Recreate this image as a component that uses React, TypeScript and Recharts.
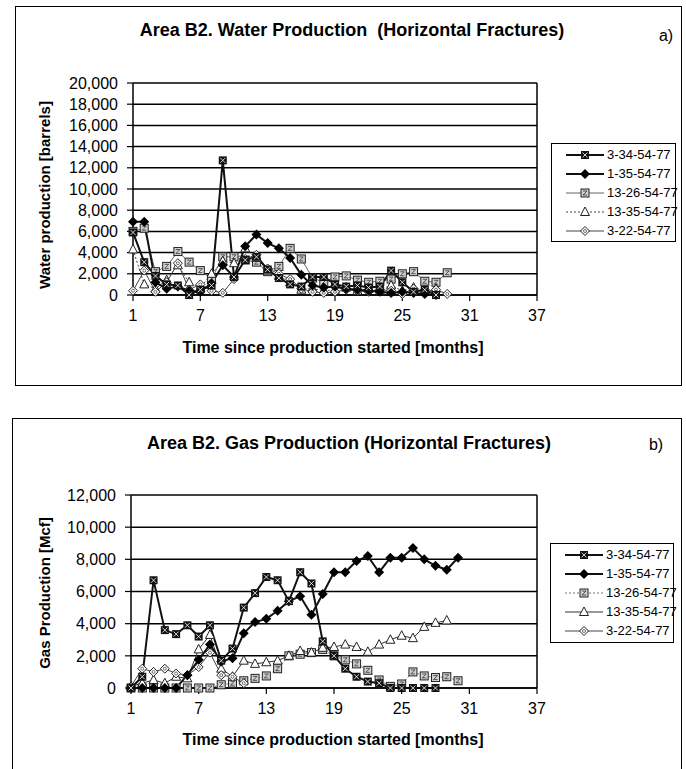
import React from 'react';
import { LineChart, Line, XAxis, YAxis, CartesianGrid, ReferenceLine } from 'recharts';

const FONT = '"Liberation Sans", Arial, Helvetica, sans-serif';

const months = Array.from({ length: 30 }, (_, i) => i + 1);
const seriesNames = ['3-34-54-77', '1-35-54-77', '13-26-54-77', '13-35-54-77', '3-22-54-77'];
const xTicks = [1, 7, 13, 19, 25, 31, 37];
const waterTicks = [0, 2000, 4000, 6000, 8000, 10000, 12000, 14000, 16000, 18000, 20000];
const gasTicks = [0, 2000, 4000, 6000, 8000, 10000, 12000];

// Water production [barrels], month 1 onward
const water3_34 = [5900, 3100, 1800, 1000, 900, 0, 500, 900, 12700, 1700, 3300, 3600, 2400, 1600, 1000, 800, 1700, 1700, 1000, 800, 900, 700, 800, 2300, 1200, 300, 500, 0];
const water1_35 = [6900, 6900, 1200, 600, 800, 400, 300, 1100, 2800, 1700, 4600, 5700, 4900, 4400, 3500, 1900, 900, 700, 800, 600, 500, 400, 300, 200, 300, 200, 100, 0];
const water13_26 = [6000, 6300, 2200, 2700, 4100, 3100, 2300, 1500, 3600, 3600, 3300, 3100, 2200, 2700, 4400, 3400, 1600, 1200, 1700, 1800, 1400, 1200, 1300, 1500, 2000, 2200, 1300, 1200, 2100];
const water13_35 = [4300, 1000, 600, 1400, 2800, 1200, 700, 2000, 3200, 3000, 4400, 3500, 2300, 1800, 1200, 500, 600, 400, 500, 700, 400, 600, 500, 900, 400, 700, 400, 600];
const water3_22 = [400, 2300, 300, 1200, 3000, 500, 1000, 400, 200, 1500, 3400, 3800, 2500, 2000, 1500, 600, 300, 200, 300, 500, 400, 300, 500, 400, 100, 600, 300, 500, 100];

// Gas production [Mcf], month 1 onward
const gas3_34 = [0, 700, 6700, 3600, 3350, 3900, 3200, 3900, 1700, 2450, 5000, 5900, 6900, 6700, 5400, 7200, 6500, 2900, 2000, 1200, 700, 400, 300, 0, 0, 0, 0, 0];
const gas1_35 = [0, 0, 0, 0, 0, 800, 1750, 2700, 1650, 1850, 3400, 4100, 4300, 4800, 5400, 5700, 4550, 5850, 7200, 7200, 7900, 8200, 7200, 8100, 8100, 8700, 8000, 7600, 7350, 8100];
const gas13_26 = [0, 0, 0, 0, 0, 0, 0, 0, 200, 300, 450, 600, 750, 1200, 2000, 2100, 2200, 2400, 2000, 1750, 1500, 1100, 500, 100, 250, 1000, 750, 650, 700, 450];
const gas13_35 = [100, 300, 500, 300, 700, 600, 2400, 3300, 1200, 700, 1700, 1500, 1600, 1700, 2000, 2300, 2200, 2500, 2550, 2700, 2550, 2250, 2700, 3000, 3250, 3100, 3800, 4050, 4200];
const gas3_22 = [100, 1200, 1000, 1200, 900, 800, 1300, 2200, 800, 700, 300];

const waterCols = [water3_34, water1_35, water13_26, water13_35, water3_22];
const gasCols = [gas3_34, gas1_35, gas13_26, gas13_35, gas3_22];

function buildRows(cols: number[][]) {
  return months.map((m, i) => {
    const r: any = { month: m };
    cols.forEach((c, j) => {
      r['s' + j] = i < c.length ? c[i] : null;
    });
    return r;
  });
}

const waterRows = buildRows(waterCols);
const gasRows = buildRows(gasCols);

type Sty = { stroke: string; width: number; dash?: string; marker: string };
const waterStyles: Sty[] = [
  { stroke: '#111', width: 2, marker: 'sqDark' },
  { stroke: '#111', width: 2, marker: 'diaFill' },
  { stroke: '#666', width: 1, marker: 'sqLight' },
  { stroke: '#444', width: 1, dash: '2 2', marker: 'tri' },
  { stroke: '#444', width: 1, marker: 'diaOpen' },
];
const gasStyles: Sty[] = [
  { stroke: '#111', width: 2, marker: 'sqDark' },
  { stroke: '#111', width: 2, marker: 'diaFill' },
  { stroke: '#777', width: 1, dash: '2 2', marker: 'sqLight' },
  { stroke: '#333', width: 1, marker: 'tri' },
  { stroke: '#444', width: 1, marker: 'diaOpen' },
];

function marker(kind: string, cx: number, cy: number, key?: string) {
  if (kind === 'sqDark') {
    return (
      <g key={key}>
        <rect x={cx - 4} y={cy - 4} width={8} height={8} fill="#111" />
        <path d={`M${cx - 2.5},${cy - 2.5}L${cx + 2.5},${cy + 2.5}M${cx + 2.5},${cy - 2.5}L${cx - 2.5},${cy + 2.5}`} stroke="#fff" strokeWidth={0.8} />
      </g>
    );
  }
  if (kind === 'diaFill') {
    return <polygon key={key} points={`${cx},${cy - 5} ${cx + 5},${cy} ${cx},${cy + 5} ${cx - 5},${cy}`} fill="#000" />;
  }
  if (kind === 'sqLight') {
    return (
      <g key={key}>
        <rect x={cx - 4} y={cy - 4} width={8} height={8} fill="#d0d0d0" stroke="#222" strokeWidth={1} />
        <path d={`M${cx - 2},${cy - 2}L${cx + 2},${cy - 2}L${cx - 2},${cy + 2}L${cx + 2},${cy + 2}`} stroke="#333" strokeWidth={0.8} fill="none" />
      </g>
    );
  }
  if (kind === 'tri') {
    return <polygon key={key} points={`${cx},${cy - 5} ${cx + 4.5},${cy + 3.5} ${cx - 4.5},${cy + 3.5}`} fill="#fff" stroke="#222" strokeWidth={1} />;
  }
  return (
    <g key={key}>
      <polygon points={`${cx},${cy - 4.5} ${cx + 4.5},${cy} ${cx},${cy + 4.5} ${cx - 4.5},${cy}`} fill="#fff" stroke="#222" strokeWidth={1} />
      <circle cx={cx} cy={cy} r={1.5} fill="none" stroke="#333" strokeWidth={0.7} />
    </g>
  );
}

function makeDot(kind: string, id: string) {
  return (p: any) => {
    const k = `${id}-${p.index}`;
    if (p.value == null || p.cx == null || p.cy == null || isNaN(p.cy)) return <g key={k} />;
    return marker(kind, p.cx, p.cy, k);
  };
}

const fmt = (v: number) => v.toLocaleString('en-US');

function LegendBox({ styles, left, top, width, height }: { styles: Sty[]; left: number; top: number; width: number; height: number }) {
  return (
    <div style={{ position: 'absolute', left, top, width, height, border: '1.5px solid #000', boxSizing: 'border-box', background: '#fff', fontFamily: FONT, fontSize: 13 }}>
      {seriesNames.map((n, i) => (
        <div key={n} style={{ position: 'absolute', left: 14, top: 1 + i * 19, height: 19, display: 'flex', alignItems: 'center' }}>
          <svg width={38} height={12} style={{ display: 'block' }}>
            <line x1={0} y1={6} x2={38} y2={6} stroke={styles[i].stroke} strokeWidth={styles[i].width} strokeDasharray={styles[i].dash} />
            {marker(styles[i].marker, 19, 6)}
          </svg>
          <span style={{ marginLeft: 3, whiteSpace: 'nowrap' }}>{n}</span>
        </div>
      ))}
    </div>
  );
}

function Txt({ x, y, children, size, bold, rotate }: { x: number; y: number; children: any; size: number; bold?: boolean; rotate?: boolean }) {
  return (
    <div
      style={{
        position: 'absolute',
        left: x,
        top: y,
        transform: `translate(-50%, -50%)${rotate ? ' rotate(-90deg)' : ''}`,
        whiteSpace: 'nowrap',
        fontFamily: FONT,
        fontSize: size,
        fontWeight: bold ? 'bold' : 'normal',
        color: '#000',
        lineHeight: 1,
      }}
    >
      {children}
    </div>
  );
}

function Chart({ rows, styles, yTicks, yMax, width, height, margin, id }: any) {
  const tickStyle = { fontSize: 16, fill: '#000', fontFamily: FONT };
  const order = [2, 3, 4, 1, 0];
  return (
    <LineChart width={width} height={height} data={rows} margin={margin}>
      <CartesianGrid horizontal vertical={false} stroke="#000" strokeWidth={1.5} />
      <XAxis
        dataKey="month"
        type="number"
        domain={[1, 37]}
        ticks={xTicks}
        interval={0}
        height={30}
        tickSize={6}
        tickMargin={9}
        tick={tickStyle}
        axisLine={{ stroke: '#000', strokeWidth: 1.5 }}
        tickLine={{ stroke: '#000', strokeWidth: 1.2 }}
      />
      <YAxis
        type="number"
        domain={[0, yMax]}
        ticks={yTicks}
        interval={0}
        width={60}
        tickSize={6}
        tickMargin={9}
        tickFormatter={fmt}
        tick={tickStyle}
        axisLine={{ stroke: '#000', strokeWidth: 1.5 }}
        tickLine={{ stroke: '#000', strokeWidth: 1.2 }}
      />
      <ReferenceLine x={37} stroke="#000" strokeWidth={1.5} />
      {order.map((i) => (
        <Line
          key={i}
          type="linear"
          dataKey={'s' + i}
          name={seriesNames[i]}
          stroke={styles[i].stroke}
          strokeWidth={styles[i].width}
          strokeDasharray={styles[i].dash}
          dot={makeDot(styles[i].marker, id + i)}
          activeDot={false}
          isAnimationActive={false}
          connectNulls={false}
        />
      ))}
    </LineChart>
  );
}

export default function App() {
  return (
    <div style={{ position: 'absolute', left: 0, top: 0, width: 686, height: 769, overflow: 'hidden', background: '#fff' }}>
      {/* Top chart box */}
      <div style={{ position: 'absolute', left: 15, top: 6, width: 667, height: 380, border: '1.5px solid #000', boxSizing: 'border-box' }} />
      <div style={{ position: 'absolute', left: 0, top: 0 }}>
        <Chart rows={waterRows} styles={waterStyles} yTicks={waterTicks} yMax={20000} width={686} height={392} margin={{ top: 83, right: 149, bottom: 67, left: 73 }} id="w" />
      </div>
      <Txt x={352} y={30} size={18} bold>Area B2. Water Production&nbsp; (Horizontal Fractures)</Txt>
      <Txt x={666} y={36} size={16}>a)</Txt>
      <Txt x={44} y={195} size={15} bold rotate>Water production [barrels]</Txt>
      <Txt x={333} y={348} size={16} bold>Time since production started [months]</Txt>
      <LegendBox styles={waterStyles} left={551} top={143} width={125} height={99} />

      {/* Bottom chart box */}
      <div style={{ position: 'absolute', left: 12, top: 418, width: 670, height: 420, border: '1.5px solid #000', boxSizing: 'border-box' }} />
      <div style={{ position: 'absolute', left: 0, top: 400 }}>
        <Chart rows={gasRows} styles={gasStyles} yTicks={gasTicks} yMax={12000} width={686} height={369} margin={{ top: 95, right: 149, bottom: 51, left: 71 }} id="g" />
      </div>
      <Txt x={349} y={443} size={18} bold>Area B2. Gas Production (Horizontal Fractures)</Txt>
      <Txt x={656} y={445} size={16}>b)</Txt>
      <Txt x={44} y={593} size={15} bold rotate>Gas Production [Mcf]</Txt>
      <Txt x={333} y={740} size={16} bold>Time since production started [months]</Txt>
      <LegendBox styles={gasStyles} left={550} top={543} width={124} height={100} />
    </div>
  );
}
